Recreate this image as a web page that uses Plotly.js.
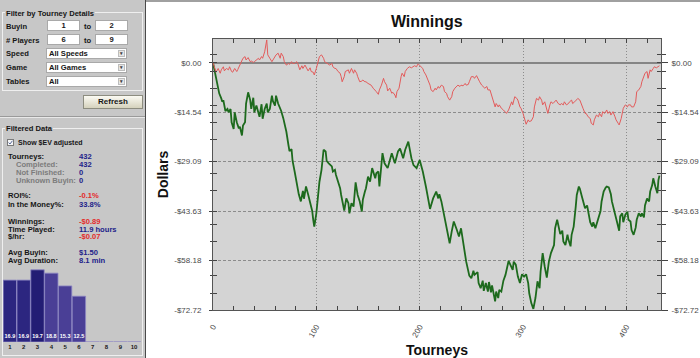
<!DOCTYPE html>
<html>
<head>
<meta charset="utf-8">
<script src="https://cdn.plot.ly/plotly-3.0.1.min.js"></script>
<style>
html,body{margin:0;padding:0;}
body{width:700px;height:358px;overflow:hidden;position:relative;background:#fff;font-family:"Liberation Sans",Arial,sans-serif;}
#panel{position:absolute;left:0;top:0;width:145px;height:358px;background:#c7c7c7;}
#vline{position:absolute;left:145px;top:0;width:1px;height:358px;background:#4a4a4a;}
#chartTop{position:absolute;left:146px;top:0;width:554px;height:2px;background:#a0a0a0;z-index:5;}
#chart{position:absolute;left:147px;top:0;width:553px;height:358px;}
#hist{position:absolute;left:3px;top:268px;width:138px;height:88px;}
.gb{position:absolute;border:1px solid #efefef;box-sizing:border-box;}
.t{position:absolute;font-weight:bold;font-size:7.6px;line-height:9px;white-space:nowrap;color:#161616;transform:translateY(-50%);}
.lbl{background:#c7c7c7;padding:0 1px;}
.g{color:#7c7c7c;}
.v{color:#22228a;}
.r{color:#e42a2a;}
.box{position:absolute;box-sizing:border-box;background:#fff;border:1px solid #a9a9a9;font-weight:bold;font-size:7.6px;color:#161616;line-height:9px;white-space:nowrap;}
.c{text-align:center;}
.dd{padding-left:2px;}
.arrow{position:absolute;right:1px;top:1px;width:7px;height:7px;background:#e6e6e6;border:1px solid #bdbdbd;box-sizing:border-box;font-size:5px;line-height:5px;text-align:center;color:#444;}
#refresh{position:absolute;left:83px;top:95px;width:60px;height:14px;box-sizing:border-box;border:1px solid #8d8d80;background:linear-gradient(#fbfaf3,#d5d2bd);font-weight:bold;font-size:8px;line-height:12px;text-align:center;color:#161616;}
.sep1{position:absolute;left:0;top:116px;width:145px;height:1px;background:#9a9a9a;}
.sep2{position:absolute;left:0;top:117px;width:145px;height:1px;background:#e8e8e8;}
#chk{position:absolute;left:7px;top:138.5px;width:7px;height:7px;box-sizing:border-box;border:1px solid #7a7a7a;background:#f6f6f6;}
#chk svg{position:absolute;left:0;top:0;}
</style>
</head>
<body>
<script>
// ---------------- data ----------------
const winTourney = [0,2,3,5,7,8,10,11,13,15,
16,18,19,21,23,24,26,27,29,31,
32,34,36,37,39,40,42,44,45,47,
48,50,52,53,55,57,58,60,61,63,
65,66,68,69,71,73,74,76,77,79,
81,82,84,86,87,89,90,92,94,95,
97,98,100,102,103,105,107,108,110,111,
113,115,116,118,119,121,123,124,125,127,
128,131,132,134,136,137,139,140,142,144,
145,147,148,150,152,153,155,157,158,160,
161,163,165,166,168,169,171,173,174,176,
177,178,180,182,183,185,186,188,190,192,
194,195,197,198,199,201,203,204,206,208,
210,211,213,215,216,218,219,221,223,224,
226,227,229,231,232,234,236,237,239,240,
242,244,245,247,248,250,252,253,255,256,
258,260,261,263,265,266,268,269,271,273,
274,276,277,279,281,282,284,286,287,289,
290,292,294,295,297,298,300,302,303,305,
306,308,310,311,313,315,316,318,319,321,
323,324,326,327,329,331,332,334,336,337,
339,340,342,344,345,347,348,350,352,353,
355,356,358,360,361,363,365,366,368,369,
371,373,374,376,377,379,381,382,384,385,
387,389,390,392,393,395,396,397,399,401,
402,404,405,407,409,410,412,414,415,417,
418,420,421,423,424,426,427,429,431,432];
const winDollars = [0,-1.7,-2.8,-1.7,-3.1,-2.1,-1.2,-2.4,-1.7,-2.1,
-1.2,-2.6,-2.8,-1.7,-2.6,-2.0,-0.5,0.1,1.3,1.8,
0.8,1.5,0.3,0.5,0.1,0.3,0.8,1.3,0.8,1.8,
1.3,3.2,6.7,2.3,1.3,0.3,0.8,1.8,2.3,2.8,
1.3,2.8,1.8,0.3,-0.7,-0.2,-0.5,0.3,-0.2,-0.2,
0.3,-0.2,-2.1,-0.9,-1.7,-0.7,-1.2,-2.4,-1.5,-2.6,
-2.8,-3.6,-1.7,1.3,1.8,2.3,1.3,0.3,-0.2,-0.2,
-0.7,-0.2,-1.2,-1.7,-1.7,-2.6,-3.1,-4.1,-5.6,-4.1,
-2.6,-2.1,-3.1,-1.7,-3.1,-2.1,-3.1,-4.1,-5.6,-5.4,
-5.1,-5.6,-5.6,-6.1,-6.4,-6.6,-7.5,-8.0,-8.5,-9.3,
-8.0,-6.6,-4.6,-5.6,-6.6,-8.3,-7.5,-9.0,-8.7,-9.5,
-10.3,-8.5,-7.5,-4.1,-3.1,-4.1,-2.6,-1.7,-1.2,-1.5,
-1.2,-0.9,-1.2,-0.5,-0.5,-1.2,-1.7,-2.6,-3.6,-5.1,
-6.6,-8.0,-8.5,-7.5,-8.0,-7.0,-7.5,-6.6,-7.0,-8.5,
-9.0,-10.0,-11.0,-10.0,-8.5,-7.5,-7.0,-6.6,-7.0,-6.6,
-6.8,-6.1,-6.6,-6.4,-5.6,-4.1,-4.1,-4.6,-3.8,-4.6,
-5.6,-6.6,-7.0,-7.5,-7.0,-8.0,-8.0,-9.0,-11.5,-13.0,
-12.0,-13.0,-12.4,-13.4,-13.9,-14.2,-14.9,-13.9,-13.0,-11.5,
-12.4,-10.0,-10.5,-11.0,-13.0,-13.4,-14.9,-17.3,-18.1,-16.8,
-17.3,-17.1,-15.9,-13.0,-10.5,-11.0,-10.0,-11.0,-12.4,-11.5,
-13.9,-14.9,-12.4,-11.5,-12.0,-11.5,-11.0,-12.0,-12.4,-12.0,
-12.4,-11.5,-12.4,-12.0,-11.5,-11.0,-12.0,-11.5,-11.0,-10.5,
-11.0,-12.0,-13.4,-14.9,-14.9,-15.9,-16.4,-17.8,-18.3,-16.8,
-15.4,-15.9,-14.9,-15.9,-14.4,-14.9,-13.9,-14.9,-14.4,-15.4,
-14.4,-15.9,-16.8,-17.8,-18.3,-16.4,-14.4,-13.4,-12.4,-13.0,
-12.4,-12.4,-13.0,-13.0,-11.5,-8.5,-8.0,-7.0,-5.6,-4.1,
-3.1,-2.6,-4.6,-2.1,-2.6,-1.7,-1.2,-1.5,-0.9,-0.9];

const evTourney = [0,3,6,8,9,10,12,14,15,17,
18,20,21,23,25,26,28,29,31,32,
34,36,37,39,40,42,44,45,47,48,
50,52,53,55,57,58,60,61,63,65,
66,68,71,73,74,76,77,79,81,83,
85,87,88,90,92,94,96,97,98,100,
102,103,105,107,109,110,112,115,116,118,
119,121,123,124,127,129,131,132,134,136,
138,140,142,144,145,147,148,150,152,154,
157,158,160,161,164,166,169,173,176,179,
181,184,186,189,192,194,197,200,203,206,
210,213,216,218,219,221,224,227,229,231,
233,236,238,240,242,245,248,250,252,253,
256,257,259,261,262,264,266,267,269,270,
273,274,276,277,279,281,283,286,288,290,
291,293,295,297,299,301,303,305,306,308,
310,312,314,316,317,319,321,323,325,327,
330,331,333,335,336,338,339,341,343,344,
346,347,349,351,352,354,355,357,359,360,
362,364,365,367,368,370,372,373,375,376,
378,380,381,383,385,386,388,389,391,393,
394,396,397,399,401,402,404,405,407,409,
410,412,414,415,417,418,420,422,423,425,
426,428,430,431,432];
const evDollars = [0,-4.6,-9.0,-10.5,-11.5,-11.0,-14.2,-13.6,-14.6,-13.6,
-17.5,-19.5,-14.6,-17.5,-19.3,-18.8,-21.4,-18.5,-17.5,-12.0,
-8.7,-11.0,-13.6,-10.3,-14.6,-12.6,-14.6,-15.9,-12.2,-16.5,
-13.6,-12.0,-14.6,-13.6,-9.7,-11.3,-12.6,-9.7,-12.0,-13.2,
-14.2,-16.3,-20.3,-24.2,-26.0,-25.4,-28.9,-32.0,-35.4,-38.7,
-40.8,-37.7,-40.0,-36.4,-38.7,-40.8,-43.6,-46.2,-48.2,-44.3,
-37.4,-35.0,-31.5,-25.6,-26.1,-28.9,-29.6,-30.5,-32.0,-31.5,
-33.0,-35.0,-36.9,-38.9,-43.5,-39.9,-41.3,-44.3,-41.3,-42.3,
-35.2,-38.9,-40.8,-43.8,-40.3,-37.9,-36.9,-33.5,-35.0,-31.0,
-34.0,-32.5,-32.0,-36.4,-26.6,-29.6,-31.0,-26.6,-29.6,-26.1,
-25.2,-28.1,-25.6,-23.2,-28.1,-30.1,-31.0,-28.6,-32.0,-36.4,
-43.0,-39.9,-37.9,-39.9,-38.7,-40.8,-45.2,-50.6,-53.1,-49.6,
-46.7,-49.2,-51.1,-48.7,-53.1,-58.5,-62.6,-63.4,-61.2,-62.4,
-61.6,-64.8,-66.3,-64.1,-67.1,-64.8,-67.3,-64.5,-67.5,-65.5,
-70.2,-67.3,-69.2,-66.8,-67.3,-64.1,-62.4,-58.3,-59.6,-60.9,
-58.5,-59.4,-62.9,-64.8,-62.2,-62.9,-62.2,-64.8,-67.8,-70.7,
-72.4,-69.2,-64.3,-66.3,-61.4,-56.0,-60.0,-63.2,-58.5,-56.0,
-53.6,-48.7,-46.2,-48.7,-50.4,-49.4,-52.6,-53.6,-50.6,-52.1,
-54.0,-50.6,-48.2,-42.3,-38.9,-36.4,-37.1,-39.4,-41.3,-42.8,
-42.0,-44.7,-46.9,-48.2,-46.9,-48.7,-46.5,-46.2,-43.6,-40.8,
-37.9,-36.7,-36.4,-36.7,-38.7,-40.8,-43.0,-44.7,-46.9,-49.4,
-45.2,-44.3,-46.9,-44.7,-43.8,-46.2,-46.7,-49.2,-50.6,-48.5,
-46.2,-44.3,-45.2,-44.3,-45.5,-42.0,-39.9,-40.8,-37.9,-36.0,
-34.0,-36.4,-38.4,-34.5,-33.2];

const tourneyTicks = [0,100,200,300,400];
const tourneyLabels = ['0','100','200','300','400'];
const tourneyMinor = [20,40,60,80,120,140,160,180,220,240,260,280,320,340,360,380,420];
const dollarTicks = [0,-14.544,-29.088,-43.632,-58.176,-72.72];
const dollarLabels = ['$0.00','-$14.54','-$29.09','-$43.63','-$58.18','-$72.72'];
const dollarMinor = [2.28,-2.72,-7.72,-12.72,-17.72,-22.72,-32.72,-37.72,-47.72,-52.72,-62.72,-67.72];

const finishPlace = [1,2,3,4,5,6,7,8,9,10];
const finishLabels = ['1','2','3','4','5','6','7','8','9','10'];
const finishPct = [16.9,16.9,19.7,18.8,15.3,12.5,0,0,0,0];
</script>

<div id="panel">
  <div class="gb" style="left:2px;top:12px;width:141px;height:79px;"></div>
  <div class="t lbl" style="left:5px;top:12.7px;">Filter by Tourney Details</div>
  <div class="t" style="left:6px;top:25.7px;">Buyin</div>
  <div class="box c" style="left:47px;top:20px;width:33px;height:11px;">1</div>
  <div class="t" style="left:84px;top:25.7px;">to</div>
  <div class="box c" style="left:95px;top:20px;width:33px;height:11px;">2</div>
  <div class="t" style="left:6px;top:39.7px;">#&nbsp;Players</div>
  <div class="box c" style="left:47px;top:34px;width:33px;height:11px;">6</div>
  <div class="t" style="left:84px;top:39.7px;">to</div>
  <div class="box c" style="left:95px;top:34px;width:33px;height:11px;">9</div>
  <div class="t" style="left:6px;top:53.3px;">Speed</div>
  <div class="box dd" style="left:46px;top:48px;width:81px;height:11px;">All Speeds<div class="arrow">&#9662;</div></div>
  <div class="t" style="left:6px;top:67.3px;">Game</div>
  <div class="box dd" style="left:46px;top:62px;width:81px;height:11px;">All Games<div class="arrow">&#9662;</div></div>
  <div class="t" style="left:6px;top:81.3px;">Tables</div>
  <div class="box dd" style="left:46px;top:76px;width:81px;height:11px;">All<div class="arrow">&#9662;</div></div>
  <div id="refresh">Refresh</div>
  <div class="sep1"></div><div class="sep2"></div>

  <div class="gb" style="left:2px;top:128px;width:141px;height:228px;"></div>
  <div class="t lbl" style="left:5px;top:128.3px;">Filtered Data</div>
  <div id="chk"><svg width="5" height="5" viewBox="0 0 5 5"><path d="M0.6 2.6 L2 4 L4.4 0.8" fill="none" stroke="#55679a" stroke-width="1"/></svg></div>
  <div class="t" style="left:18px;top:142.3px;font-size:7px;">Show $EV adjusted</div>

  <div class="t" style="left:8px;top:156.3px;">Tourneys:</div><div class="t v" style="left:79px;top:156.3px;">432</div>
  <div class="t g" style="left:16px;top:164.3px;">Completed:</div><div class="t v" style="left:79px;top:164.3px;">432</div>
  <div class="t g" style="left:16px;top:172px;">Not Finished:</div><div class="t v" style="left:79px;top:172px;">0</div>
  <div class="t g" style="left:16px;top:179.7px;">Unknown Buyin:</div><div class="t v" style="left:79px;top:179.7px;">0</div>

  <div class="t" style="left:8px;top:195.3px;">ROI%:</div><div class="t r" style="left:79px;top:195.3px;">-0.1%</div>
  <div class="t" style="left:8px;top:204.3px;">In the Money%:</div><div class="t v" style="left:79px;top:204.3px;">33.8%</div>

  <div class="t" style="left:8px;top:221px;">Winnings:</div><div class="t r" style="left:79px;top:221px;">-$0.89</div>
  <div class="t" style="left:8px;top:228.5px;">Time Played:</div><div class="t v" style="left:79px;top:228.5px;">11.9 hours</div>
  <div class="t" style="left:8px;top:236px;">$/hr:</div><div class="t r" style="left:79px;top:236px;">-$0.07</div>

  <div class="t" style="left:8px;top:251.7px;">Avg Buyin:</div><div class="t v" style="left:79px;top:251.7px;">$1.50</div>
  <div class="t" style="left:8px;top:260.3px;">Avg Duration:</div><div class="t v" style="left:79px;top:260.3px;">8.1 min</div>
  <div id="hist"></div>
</div>
<div id="vline"></div>
<div id="chartTop"></div>
<div id="chart"></div>

<script>
const tickFont = {family:'Liberation Sans, Arial, sans-serif', size:8, color:'#4a4a4a'};
const titleFont = {family:'Liberation Sans, Arial, sans-serif', size:14, color:'#111', weight:'bold'};

const traces = [
  {x: evTourney, y: evDollars, type:'scatter', mode:'lines', line:{color:'#1d6a1d', width:1.8}, hoverinfo:'skip'},
  {x: winTourney, y: winDollars, type:'scatter', mode:'lines', line:{color:'#e35b5b', width:1}, hoverinfo:'skip'},
  {x: [], y: [], yaxis:'y2', type:'scatter', mode:'lines', hoverinfo:'skip'},
  {x: [], y: [], yaxis:'y3', type:'scatter', mode:'lines', hoverinfo:'skip'}
];

const yRange = [-72.72, 6.97];
const layout = {
  width:553, height:358,
  margin:{l:66, r:39, t:39, b:48, pad:0},
  paper_bgcolor:'#ffffff', plot_bgcolor:'#d4d4d4',
  showlegend:false,
  font:tickFont,
  title:{text:'Winnings', font:{family:'Liberation Sans, Arial, sans-serif', size:16, color:'#111', weight:'bold'},
         x:0.506, xref:'container', xanchor:'center', y:1-21/358, yref:'container', yanchor:'middle'},
  xaxis:{range:[0,433.5], tickmode:'array', tickvals:tourneyTicks, ticktext:tourneyLabels, tickangle:-60,
         ticks:'inside', ticklen:4, tickcolor:'#444', mirror:'ticks', showline:true, linecolor:'#555',
         showgrid:true, gridcolor:'#8c8c8c', griddash:'1px,2px', gridwidth:1, zeroline:false,
         ticklabelstandoff:8, tickfont:tickFont,
         minor:{tickmode:'array', tickvals:tourneyMinor, ticks:'inside', ticklen:4, tickcolor:'#444', showgrid:false},
         title:{text:'Tourneys', font:titleFont, standoff:8}, fixedrange:true},
  yaxis:{range:yRange, tickmode:'array', tickvals:dollarTicks, ticktext:dollarLabels, side:'left',
         ticks:'outside', ticklen:3, tickcolor:'#444', showline:true, linecolor:'#555',
         showgrid:true, gridcolor:'#8c8c8c', griddash:'3px,2px', gridwidth:1,
         zeroline:true, zerolinecolor:'#858585', zerolinewidth:2,
         ticklabelstandoff:6, tickfont:tickFont,
         minor:{tickmode:'array', tickvals:dollarMinor, ticks:'outside', ticklen:2, tickcolor:'#444', showgrid:false},
         title:{text:'Dollars', font:titleFont, standoff:2}, fixedrange:true},
  yaxis2:{range:yRange, tickmode:'array', tickvals:dollarTicks, ticktext:dollarLabels, overlaying:'y', side:'right',
         ticks:'outside', ticklen:6, tickcolor:'#444', showline:true, linecolor:'#555',
         showgrid:false, zeroline:false, ticklabelstandoff:2, tickfont:tickFont,
         minor:{tickmode:'array', tickvals:dollarMinor, ticks:'outside', ticklen:4, tickcolor:'#444', showgrid:false},
         fixedrange:true},
  yaxis3:{range:yRange, tickmode:'array', tickvals:dollarTicks, overlaying:'y', side:'left',
         ticks:'inside', ticklen:4, tickcolor:'#444', mirror:'ticks', showline:false, showticklabels:false,
         showgrid:false, zeroline:false,
         minor:{tickmode:'array', tickvals:dollarMinor, ticks:'inside', ticklen:4, tickcolor:'#444', showgrid:false},
         fixedrange:true}
};
Plotly.newPlot('chart', traces, layout, {staticPlot:true, displayModeBar:false});

const histColors = ['#2c2680','#2c2680','#231d74','#4a3f96','#4a3f96','#4a3f96','#4a3f96','#4a3f96','#4a3f96','#4a3f96'];
Plotly.newPlot('hist', [{
  type:'bar', x:finishPlace, y:finishPct,
  text:finishPct.map(v => v > 0 ? v.toFixed(1) : ''),
  textposition:'inside', insidetextanchor:'start', textangle:0, constraintext:'none',
  textfont:{family:'Liberation Sans, Arial, sans-serif', size:5.5, color:'#ffffff', weight:'bold'},
  marker:{color:histColors, line:{color:'#8d86c4', width:0.8}}, hoverinfo:'skip'
}], {
  width:138, height:88, margin:{l:0, r:0, t:0, b:14, pad:0},
  paper_bgcolor:'rgba(0,0,0,0)', plot_bgcolor:'rgba(0,0,0,0)',
  bargap:0.03, showlegend:false,
  xaxis:{range:[0.5,10.5], tickmode:'array', tickvals:finishPlace, ticktext:finishLabels, ticks:'',
         showgrid:false, zeroline:false, showline:false, ticklabelstandoff:0,
         tickfont:{family:'Liberation Sans, Arial, sans-serif', size:6, color:'#1a1a1a', weight:'bold'}, fixedrange:true},
  yaxis:{range:[0,20.2], visible:false, fixedrange:true}
}, {staticPlot:true, displayModeBar:false});
</script>
</body>
</html>
